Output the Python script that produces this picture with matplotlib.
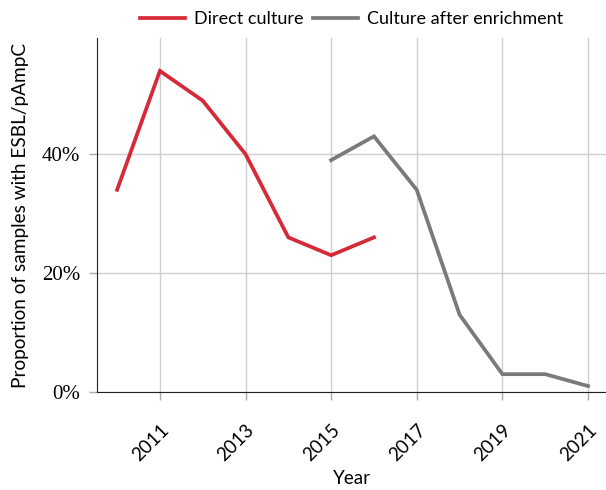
import matplotlib
matplotlib.use("Agg")
import matplotlib.pyplot as plt
from matplotlib.ticker import FuncFormatter

years_direct = [2010, 2011, 2012, 2013, 2014, 2015, 2016]
direct_culture = [34, 54, 49, 40, 26, 23, 26]

years_enrich = [2015, 2016, 2017, 2018, 2019, 2020, 2021]
after_enrichment = [39, 43, 34, 13, 3, 3, 1]

x_ticks = [2011, 2013, 2015, 2017, 2019, 2021]
y_ticks = [0, 20, 40]

plt.rcParams['font.family'] = ['Lato', 'DejaVu Sans']

fig = plt.figure(figsize=(6.06, 4.9), dpi=100)
ax = fig.add_axes([0.160, 0.2, 0.840, 0.722])

ax.plot(years_direct, direct_culture, color='#d52a37', lw=2.7, label='Direct culture', solid_joinstyle='miter')
ax.plot(years_enrich, after_enrichment, color='#7a7a7a', lw=2.7, label='Culture after enrichment', solid_joinstyle='miter')

ax.set_xlim(2009.53, 2021.42)
ax.set_ylim(0, 59.5)
ax.set_xticks(x_ticks)
ax.set_xticklabels([str(y) for y in x_ticks], rotation=45, fontsize=13.5,
                   ha='right', va='top', rotation_mode='anchor')
ax.set_yticks(y_ticks)
ax.yaxis.set_major_formatter(FuncFormatter(lambda v, p: f"{v:.0f}%"))
for lab in ax.get_yticklabels():
    lab.set_fontfamily('Liberation Serif')
    lab.set_fontsize(15)

ax.grid(True, color='#cfcfcf', lw=1)
ax.set_axisbelow(True)
ax.spines['top'].set_visible(False)
ax.spines['right'].set_visible(False)
ax.spines['left'].set_color('#222222')
ax.spines['bottom'].set_color('#222222')
ax.tick_params(axis='both', color='#aaaaaa', length=6, width=1)
ax.tick_params(axis='y', pad=6)
ax.tick_params(axis='x', pad=15)

ax.set_xlabel('Year', fontsize=13.5, labelpad=4)
ax.set_ylabel('Proportion of samples with ESBL/pAmpC', fontsize=13.7, labelpad=9)

ax.legend(loc='lower center', bbox_to_anchor=(0.5, 0.985), ncol=2, frameon=False,
          fontsize=13, handlelength=2.5, columnspacing=0.5, handletextpad=0.5)

fig.savefig('out.png', dpi=100)
plt.close()
